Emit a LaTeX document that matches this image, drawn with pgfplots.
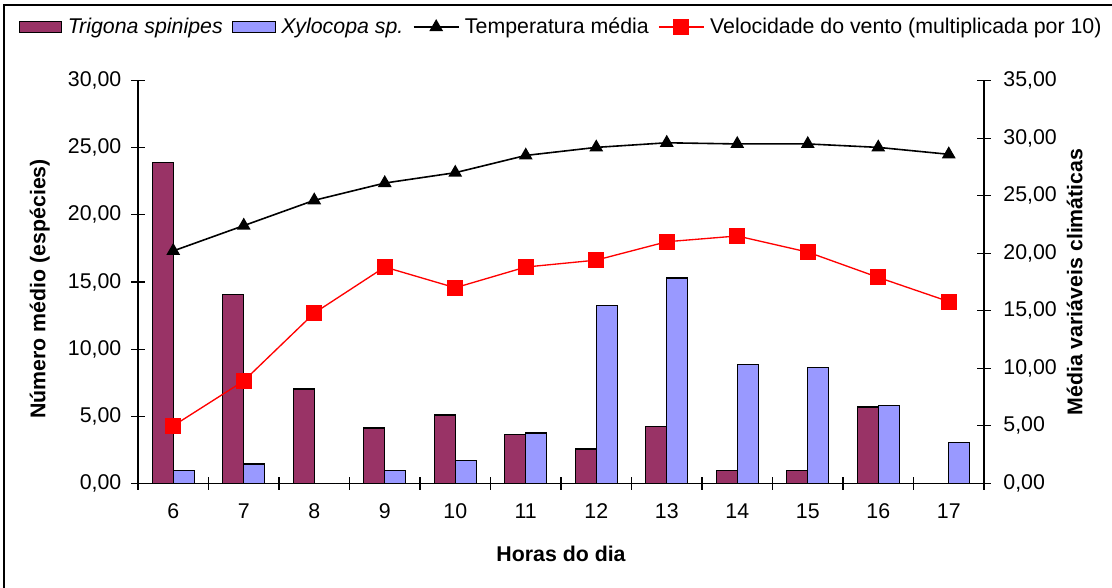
\documentclass[border=0pt]{standalone}
\usepackage{fontspec}
\setmainfont{Liberation Sans}
\usepackage{pgfplots}
\pgfplotsset{compat=1.18}

\definecolor{trig}{HTML}{993366}
\definecolor{xylo}{HTML}{9999FF}

\pgfplotsset{
  /pgf/number format/assume math mode=true,
  barleg/.style={legend image code/.code={\draw[##1] (0pt,-4pt) rectangle (32pt,4pt);}},
  lineleg/.style={legend image code/.code={\draw[##1, mark repeat=2, mark phase=2] plot coordinates {(0pt,0pt) (17pt,0pt) (34pt,0pt)};}},
}

\begin{document}
\begin{tikzpicture}[font=\fontsize{16}{19}\selectfont]
\useasboundingbox (0,0) rectangle (834pt,441pt);
\draw[line width=0.8pt] (3pt,0pt) -- (3pt,437.25pt) -- (834pt,437.25pt);

% barras: eixo da esquerda
\begin{axis}[
  at={(103.5pt,78.5pt)}, anchor=south west,
  scale only axis, width=634.5pt, height=302pt,
  xmin=5.5, xmax=17.5, ymin=0, ymax=30,
  axis x line*=bottom, axis y line*=left, axis line style={-, line width=0.8pt},
  ybar=0pt, bar width=15.75pt,
  xtick={6,...,17}, major x tick style={draw=none},
  minor xtick={5.5,6.5,...,17.5},
  ytick={0,5,...,30},
  tick align=center, major tick length=10pt, minor tick length=10pt,
  tick style={black, line width=0.8pt},
  x tick label style={yshift=-7pt},
  y tick label style={xshift=-4pt, /pgf/number format/.cd, fixed, fixed zerofill, precision=2, use comma},
  xlabel={\bfseries Horas do dia},
  ylabel={\bfseries Número médio (espécies)},
  xlabel style={at={(axis description cs:0.5,-0.174)}, anchor=center},
  ylabel style={at={(axis description cs:-0.116,0.483)}, anchor=center},
]
\addplot[fill=trig, draw=black, line width=0.9pt] coordinates {
  (6,23.9) (7,14.08) (8,7.03) (9,4.12) (10,5.09) (11,3.62)
  (12,2.56) (13,4.25) (14,0.94) (15,0.94) (16,5.69) (17,0)};
\addplot[fill=xylo, draw=black, line width=0.9pt] coordinates {
  (6,0.94) (7,1.44) (8,0) (9,0.94) (10,1.68) (11,3.75)
  (12,13.23) (13,15.30) (14,8.87) (15,8.62) (16,5.81) (17,3.03)};
\end{axis}

% linhas: eixo da direita
\begin{axis}[
  at={(103.5pt,78.5pt)}, anchor=south west,
  scale only axis, width=634.5pt, height=302pt,
  xmin=5.5, xmax=17.5, ymin=0, ymax=35,
  axis x line=none, axis y line*=right, axis line style={-, line width=0.8pt},
  ytick={0,5,...,35},
  tick align=center, major tick length=10pt,
  tick style={black, line width=0.8pt},
  y tick label style={xshift=6pt, /pgf/number format/.cd, fixed, fixed zerofill, precision=2, use comma},
  ylabel={\bfseries Média variáveis climáticas},
  ylabel style={at={(axis description cs:1.107,0.5)}, anchor=center, rotate=0},
  legend columns=4,
  legend style={at={(0.502,1.133)}, anchor=center, draw=none, fill=none,
    nodes={inner xsep=4pt},
    /tikz/every even column/.append style={column sep=3pt}},
  legend cell align=left,
]
\addlegendimage{barleg, fill=trig, draw=black, line width=0.9pt}
\addlegendentry{\itshape Trigona spinipes}
\addlegendimage{barleg, fill=xylo, draw=black, line width=0.9pt}
\addlegendentry{\itshape Xylocopa sp.}
\addplot[lineleg, black, line width=1.2pt, mark=triangle*, mark size=4.8pt] coordinates {
  (6,20.2) (7,22.4) (8,24.6) (9,26.1) (10,27.0) (11,28.5)
  (12,29.2) (13,29.6) (14,29.5) (15,29.5) (16,29.2) (17,28.6)};
\addlegendentry{Temperatura média}
\addplot[lineleg, red, line width=1pt, mark=square*, mark size=5.5pt] coordinates {
  (6,5.0) (7,8.9) (8,14.8) (9,18.8) (10,17.0) (11,18.8)
  (12,19.4) (13,21.0) (14,21.5) (15,20.1) (16,17.9) (17,15.8)};
\addlegendentry{Velocidade do vento (multiplicada por 10)}
\end{axis}
\end{tikzpicture}
\end{document}
